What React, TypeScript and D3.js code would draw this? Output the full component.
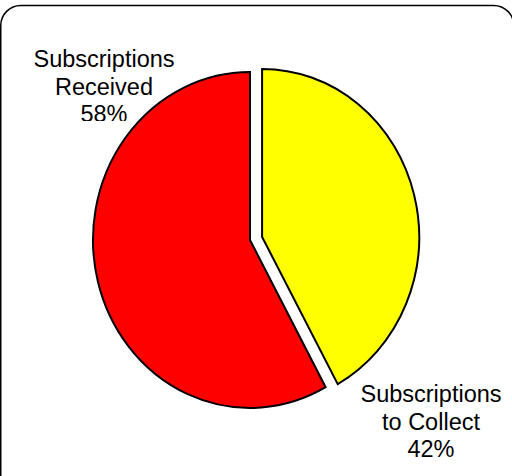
import React from "react";
import * as d3 from "d3";

const categories = ["Subscriptions to Collect", "Subscriptions Received"];
const values = [42, 58];
const labelLines = [
  ["Subscriptions", "to Collect", "42%"],
  ["Subscriptions", "Received", "58%"],
];
const colors = ["#FFFF00", "#FF0000"];
const exploded = [true, false];

const W = 512;
const H = 476;
const cx = 250;
const cy = 240;
const rx = 157;
const ry = 168;
const explodeDist = 12.5;

export default function App() {
  const pie = d3.pie<number>().sort(null).value((d) => d);
  const arcs = pie(values);
  const arc = d3.arc<d3.PieArcDatum<number>>().innerRadius(0).outerRadius(ry);
  const sx = rx / ry;
  const labelPos = [
    { x: 431, y: 402 },
    { x: 104, y: 67 },
  ];
  const clips = [null, 121];
  return (
    <svg
      width={W}
      height={H}
      style={{ position: "fixed", left: 0, top: 0, background: "#fff" }}
      fontFamily="'Liberation Sans', Arial, sans-serif"
    >
      <defs>
        <clipPath id="clipLeft">
          <rect x={0} y={0} width={W} height={121} />
        </clipPath>
      </defs>
      <rect x={0.75} y={5.5} width={513} height={490} rx={20} ry={20} fill="#fff" stroke="#000" strokeWidth={1.5} />
      {labelLines.map((lines, i) => (
        <text
          key={categories[i]}
          x={labelPos[i].x}
          y={labelPos[i].y}
          textAnchor="middle"
          fontSize={23.5}
          fill="#000"
          clipPath={clips[i] ? "url(#clipLeft)" : undefined}
        >
          {lines.map((l, j) => (
            <tspan key={j} x={labelPos[i].x} dy={j === 0 ? 0 : 27.5}>
              {l}
            </tspan>
          ))}
        </text>
      ))}
      {arcs.map((a, i) => {
        const mid = (a.startAngle + a.endAngle) / 2;
        const ox = exploded[i] ? Math.sin(mid) * explodeDist : 0;
        const oy = exploded[i] ? -Math.cos(mid) * explodeDist : 0;
        return (
          <g key={categories[i]} transform={`translate(${cx + ox},${cy + oy}) scale(${sx},1)`}>
            <path
              d={arc(a) || ""}
              fill={colors[i]}
              stroke="#000"
              strokeWidth={2}
              strokeLinejoin="miter"
              vectorEffect="non-scaling-stroke"
            />
          </g>
        );
      })}
    </svg>
  );
}
